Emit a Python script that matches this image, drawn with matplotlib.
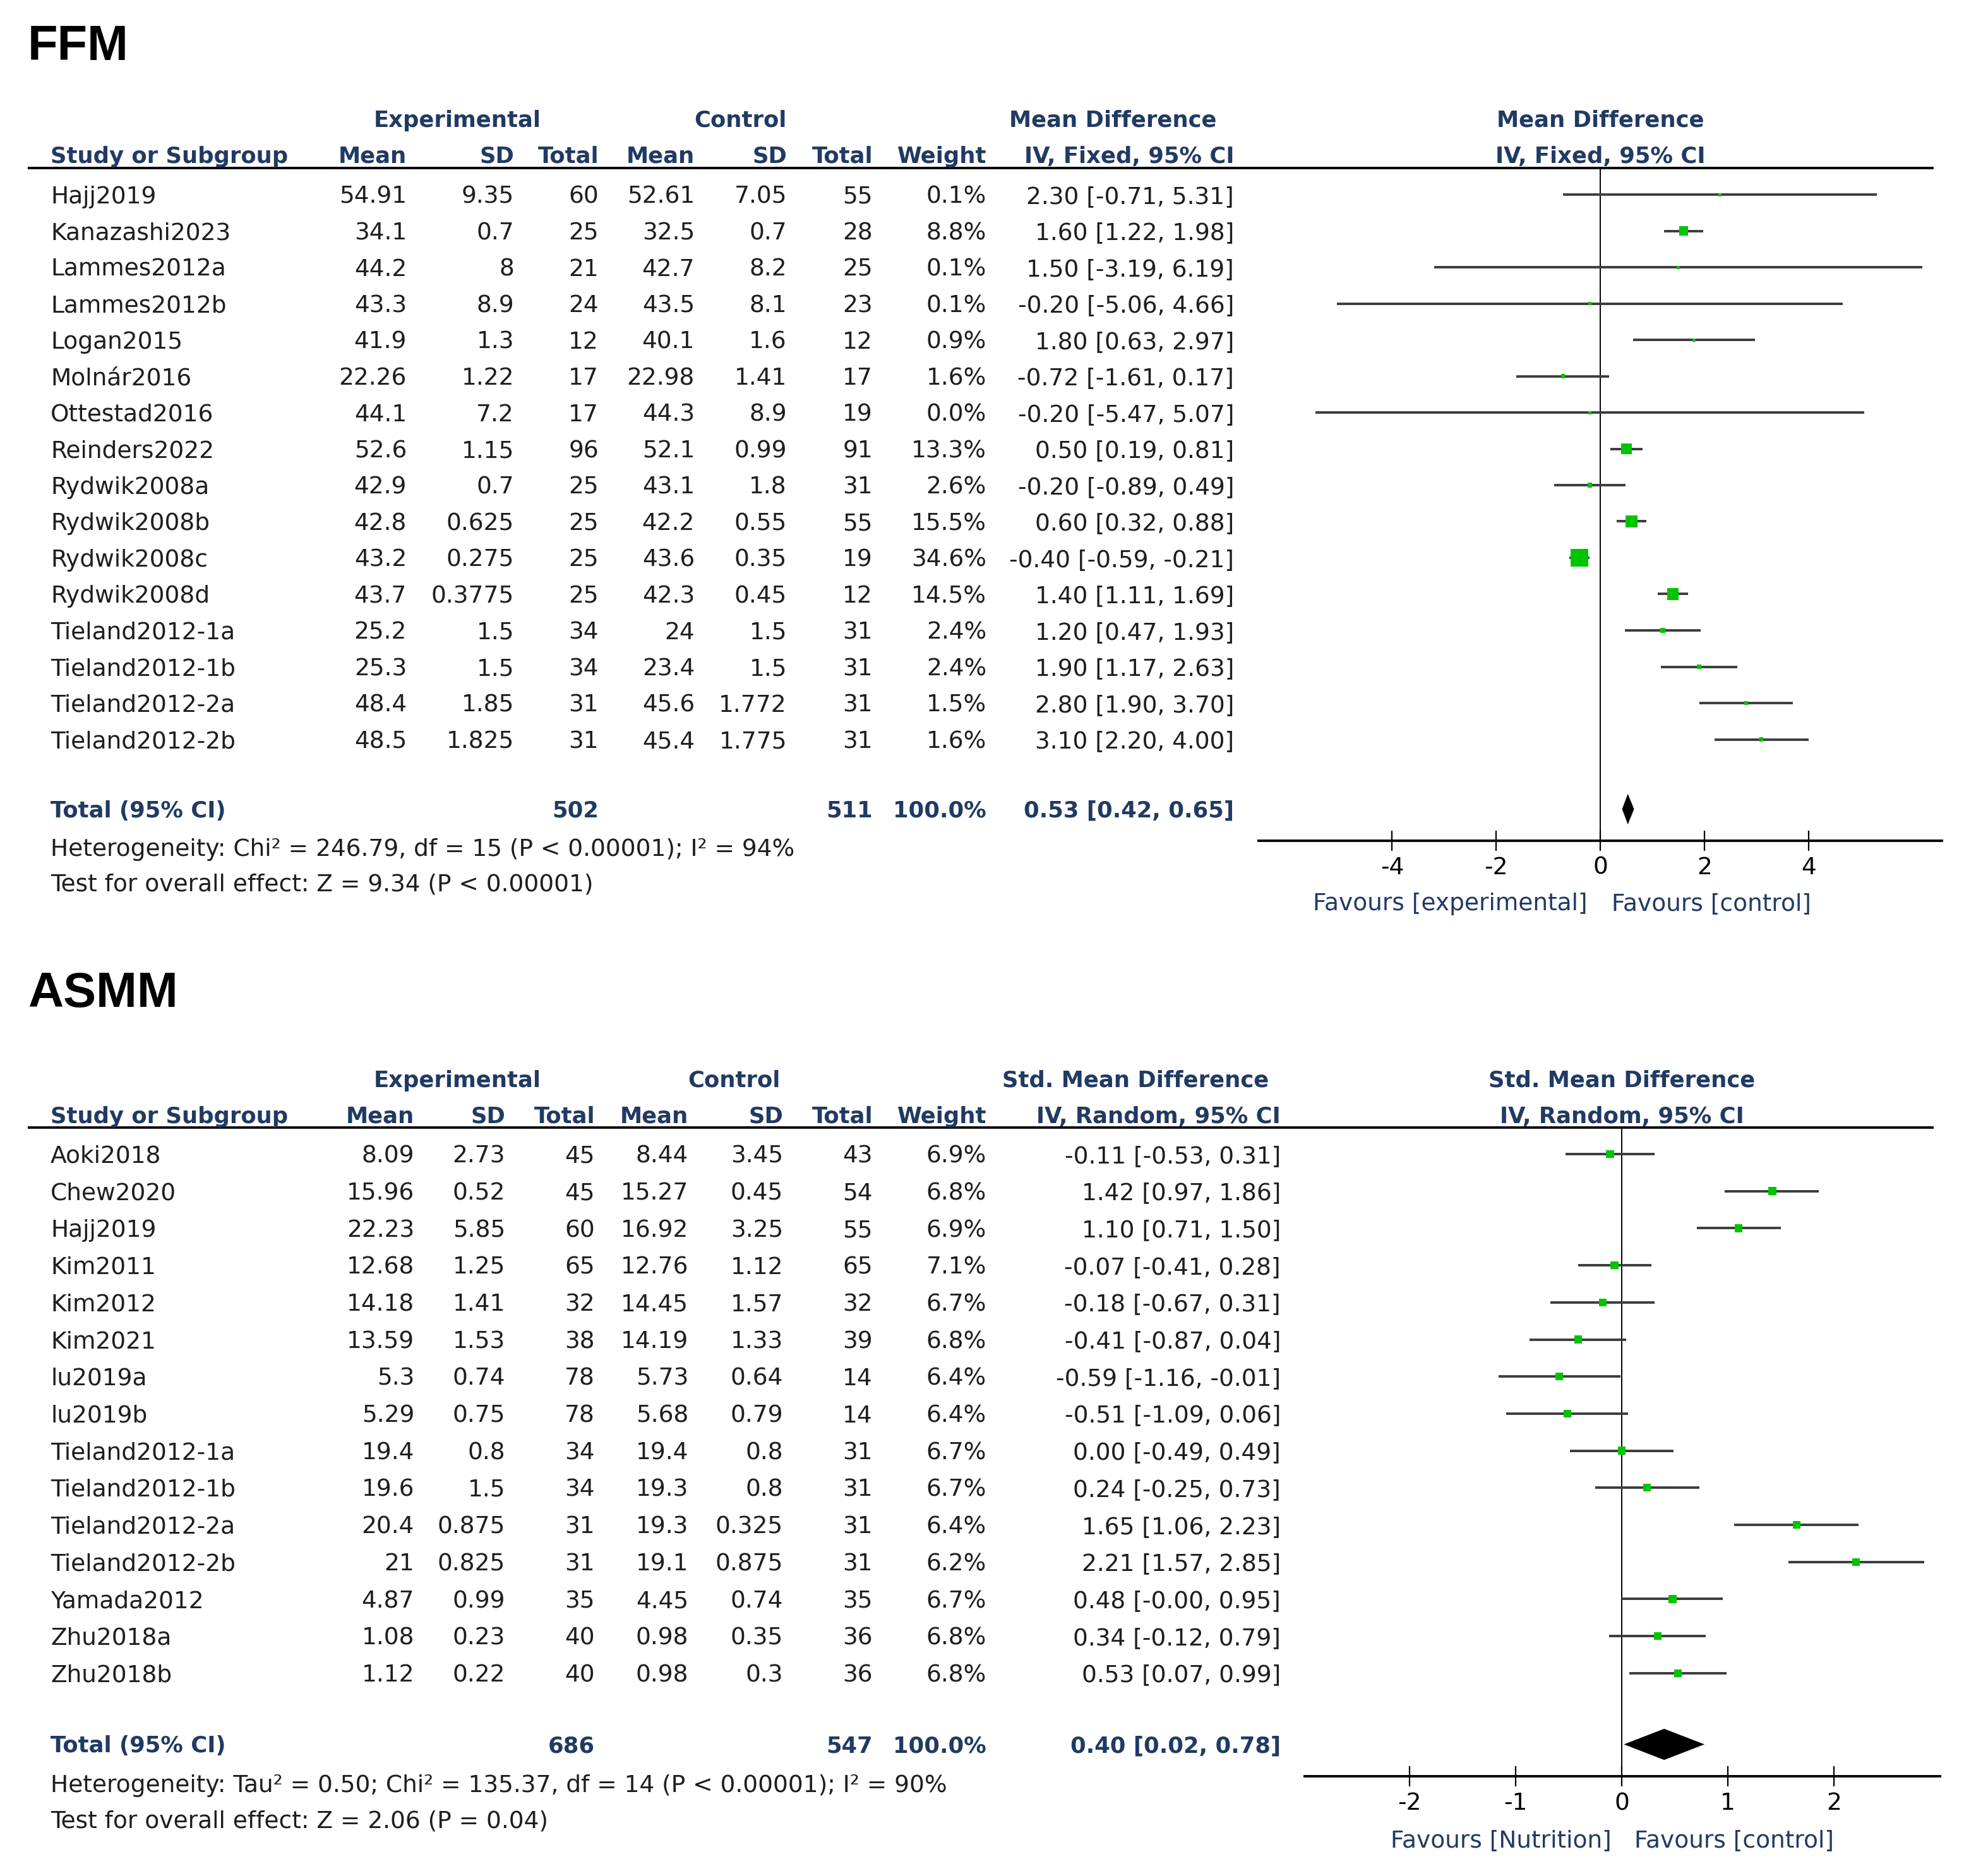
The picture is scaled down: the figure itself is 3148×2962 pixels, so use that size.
import matplotlib
matplotlib.use("Agg")
import matplotlib.pyplot as plt
import numpy as np

plt.rcParams["font.family"] = ["DejaVu Sans"]
plt.rcParams["axes.unicode_minus"] = False

W, H = 3148, 2962
DPI = 100
FS = 27          # table text
FS_B = 25.5      # bold header text
FS_T = 56        # panel titles
HEAD_COL = "#203a63"
TEXT_COL = "#1e1e1e"
GREEN = "#00c400"
CI_COL = "#3c3c3c"

# ---------------- FFM ----------------
ffm_study = ["Hajj2019", "Kanazashi2023", "Lammes2012a", "Lammes2012b", "Logan2015",
             "Molnár2016", "Ottestad2016", "Reinders2022", "Rydwik2008a", "Rydwik2008b",
             "Rydwik2008c", "Rydwik2008d", "Tieland2012-1a", "Tieland2012-1b",
             "Tieland2012-2a", "Tieland2012-2b"]
ffm_exp_mean = [54.91, 34.1, 44.2, 43.3, 41.9, 22.26, 44.1, 52.6, 42.9, 42.8, 43.2, 43.7,
                25.2, 25.3, 48.4, 48.5]
ffm_exp_sd = [9.35, 0.7, 8, 8.9, 1.3, 1.22, 7.2, 1.15, 0.7, 0.625, 0.275, 0.3775,
              1.5, 1.5, 1.85, 1.825]
ffm_exp_n = [60, 25, 21, 24, 12, 17, 17, 96, 25, 25, 25, 25, 34, 34, 31, 31]
ffm_ctrl_mean = [52.61, 32.5, 42.7, 43.5, 40.1, 22.98, 44.3, 52.1, 43.1, 42.2, 43.6, 42.3,
                 24, 23.4, 45.6, 45.4]
ffm_ctrl_sd = [7.05, 0.7, 8.2, 8.1, 1.6, 1.41, 8.9, 0.99, 1.8, 0.55, 0.35, 0.45,
               1.5, 1.5, 1.772, 1.775]
ffm_ctrl_n = [55, 28, 25, 23, 12, 17, 19, 91, 31, 55, 19, 12, 31, 31, 31, 31]
ffm_weight = [0.1, 8.8, 0.1, 0.1, 0.9, 1.6, 0.0, 13.3, 2.6, 15.5, 34.6, 14.5, 2.4, 2.4, 1.5, 1.6]
ffm_est = [2.30, 1.60, 1.50, -0.20, 1.80, -0.72, -0.20, 0.50, -0.20, 0.60, -0.40, 1.40,
           1.20, 1.90, 2.80, 3.10]
ffm_lo = [-0.71, 1.22, -3.19, -5.06, 0.63, -1.61, -5.47, 0.19, -0.89, 0.32, -0.59, 1.11,
          0.47, 1.17, 1.90, 2.20]
ffm_hi = [5.31, 1.98, 6.19, 4.66, 2.97, 0.17, 5.07, 0.81, 0.49, 0.88, -0.21, 1.69,
          1.93, 2.63, 3.70, 4.00]
ffm_total = [0.53, 0.42, 0.65]
ffm_n_total = [502, 511]
ffm_ticks = [-4, -2, 0, 2, 4]
ffm_het = "Heterogeneity: Chi² = 246.79, df = 15 (P < 0.00001); I² = 94%"
ffm_test = "Test for overall effect: Z = 9.34 (P < 0.00001)"

# ---------------- ASMM ----------------
asmm_study = ["Aoki2018", "Chew2020", "Hajj2019", "Kim2011", "Kim2012", "Kim2021",
              "lu2019a", "lu2019b", "Tieland2012-1a", "Tieland2012-1b", "Tieland2012-2a",
              "Tieland2012-2b", "Yamada2012", "Zhu2018a", "Zhu2018b"]
asmm_exp_mean = [8.09, 15.96, 22.23, 12.68, 14.18, 13.59, 5.3, 5.29, 19.4, 19.6, 20.4, 21,
                 4.87, 1.08, 1.12]
asmm_exp_sd = [2.73, 0.52, 5.85, 1.25, 1.41, 1.53, 0.74, 0.75, 0.8, 1.5, 0.875, 0.825,
               0.99, 0.23, 0.22]
asmm_exp_n = [45, 45, 60, 65, 32, 38, 78, 78, 34, 34, 31, 31, 35, 40, 40]
asmm_ctrl_mean = [8.44, 15.27, 16.92, 12.76, 14.45, 14.19, 5.73, 5.68, 19.4, 19.3, 19.3,
                  19.1, 4.45, 0.98, 0.98]
asmm_ctrl_sd = [3.45, 0.45, 3.25, 1.12, 1.57, 1.33, 0.64, 0.79, 0.8, 0.8, 0.325, 0.875,
                0.74, 0.35, 0.3]
asmm_ctrl_n = [43, 54, 55, 65, 32, 39, 14, 14, 31, 31, 31, 31, 35, 36, 36]
asmm_weight = [6.9, 6.8, 6.9, 7.1, 6.7, 6.8, 6.4, 6.4, 6.7, 6.7, 6.4, 6.2, 6.7, 6.8, 6.8]
asmm_est = [-0.11, 1.42, 1.10, -0.07, -0.18, -0.41, -0.59, -0.51, 0.00, 0.24, 1.65, 2.21,
            0.48, 0.34, 0.53]
asmm_lo = [-0.53, 0.97, 0.71, -0.41, -0.67, -0.87, -1.16, -1.09, -0.49, -0.25, 1.06, 1.57,
           -0.0, -0.12, 0.07]
asmm_hi = [0.31, 1.86, 1.50, 0.28, 0.31, 0.04, -0.01, 0.06, 0.49, 0.73, 2.23, 2.85,
           0.95, 0.79, 0.99]
asmm_total = [0.40, 0.02, 0.78]
asmm_n_total = [686, 547]
asmm_ticks = [-2, -1, 0, 1, 2]
asmm_het = "Heterogeneity: Tau² = 0.50; Chi² = 135.37, df = 14 (P < 0.00001); I² = 90%"
asmm_test = "Test for overall effect: Z = 2.06 (P = 0.04)"

# layout of the two panels, in pixels (y = centre of capital letters)
ffm_cfg = dict(title="FFM", title_y=67, grp_y=188, sub_y=245, line_y=266, y0=308,
               step=57.5, axis_y=1331, fav_y=1427, zero=2534, unit=82.4,
               xlim=(-6.57, 6.57),
               cols=[644, 814, 948, 1100, 1246, 1382, 1562, 1954],
               grp_x=[724, 1172, 1762],
               md_head="Mean Difference", iv_head="IV, Fixed, 95% CI",
               fav_left="Favours [experimental]", fav_gap=(20, 18))
asmm_cfg = dict(title="ASMM", title_y=1566, grp_y=1708, sub_y=1765, line_y=1785, y0=1827,
                step=58.7, axis_y=2812, fav_y=2910, zero=2568, unit=168, xlim=(-2.99, 3.0),
                cols=[656, 800, 942, 1090, 1240, 1382, 1562, 2028],
                grp_x=[724, 1162, 1798],
                md_head="Std. Mean Difference", iv_head="IV, Random, 95% CI",
                fav_left="Favours [Nutrition]", fav_gap=(16, 20))


def fmt_ci(e, l, h):
    return f"{e:.2f} [{l:.2f}, {h:.2f}]"


def put(ax, x, yc, s, fs=FS, cap=0.729, **kw):
    """place text so that its capital letters are centred on yc (pixels)"""
    ax.text(x, yc + cap * fs * DPI / 72 / 2, s, fontsize=fs, va="baseline", **kw)


def draw_panel(fig, bg, cfg, study, em, esd, en, cm, csd, cn, wt, est, lo, hi,
               total, n_total, ticks, het, test):
    y0, step = cfg["y0"], cfg["step"]
    cols = cfg["cols"]
    n = len(study)

    put(bg, 44, cfg["title_y"], cfg["title"], fs=FS_T, cap=0.716, fontweight="bold",
        ha="left", color="black", family="Liberation Sans")

    # headers
    hk = dict(fs=FS_B, fontweight="bold", color=HEAD_COL)
    put(bg, cfg["grp_x"][0], cfg["grp_y"], "Experimental", ha="center", **hk)
    put(bg, cfg["grp_x"][1], cfg["grp_y"], "Control", ha="center", **hk)
    put(bg, cfg["grp_x"][2], cfg["grp_y"], cfg["md_head"], ha="center", **hk)
    put(bg, cfg["zero"], cfg["grp_y"], cfg["md_head"], ha="center", **hk)
    put(bg, 80, cfg["sub_y"], "Study or Subgroup", ha="left", **hk)
    for x, lab in zip(cols, ["Mean", "SD", "Total", "Mean", "SD", "Total", "Weight",
                             cfg["iv_head"]]):
        put(bg, x, cfg["sub_y"], lab, ha="right", **hk)
    put(bg, cfg["zero"], cfg["sub_y"], cfg["iv_head"], ha="center", **hk)
    bg.plot([44, 3062], [cfg["line_y"]] * 2, color="black", lw=2.8, solid_capstyle="butt")

    # study rows
    for i in range(n):
        y = y0 + i * step
        put(bg, 80, y, study[i], ha="left", color=TEXT_COL)
        vals = [f"{em[i]:g}", f"{esd[i]:g}", f"{en[i]}", f"{cm[i]:g}", f"{csd[i]:g}",
                f"{cn[i]}", f"{wt[i]:.1f}%", fmt_ci(est[i], lo[i], hi[i])]
        for x, v in zip(cols, vals):
            put(bg, x, y, v, ha="right", color=TEXT_COL)

    # total row and summary lines
    yt = y0 + (n + 0.92) * step
    put(bg, 80, yt, "Total (95% CI)", ha="left", **hk)
    put(bg, cols[2], yt, f"{n_total[0]}", ha="right", **hk)
    put(bg, cols[5], yt, f"{n_total[1]}", ha="right", **hk)
    put(bg, cols[6], yt, "100.0%", ha="right", **hk)
    put(bg, cols[7], yt, fmt_ci(*total), ha="right", **hk)
    put(bg, 80, y0 + (n + 1.97) * step, het, ha="left", color=TEXT_COL)
    put(bg, 80, y0 + (n + 2.93) * step, test, ha="left", color=TEXT_COL)

    # favours labels
    put(bg, cfg["zero"] - cfg["fav_gap"][0], cfg["fav_y"], cfg["fav_left"], ha="right",
        color=HEAD_COL)
    put(bg, cfg["zero"] + cfg["fav_gap"][1], cfg["fav_y"], "Favours [control]", ha="left",
        color=HEAD_COL)

    # forest plot axes
    x0, x1 = cfg["xlim"]
    left_px = cfg["zero"] + x0 * cfg["unit"]
    width_px = (x1 - x0) * cfg["unit"]
    ax = fig.add_axes([left_px / W, 1 - cfg["axis_y"] / H, width_px / W,
                       (cfg["axis_y"] - cfg["line_y"]) / H])
    ax.patch.set_alpha(0)
    ax.set_xlim(x0, x1)
    ax.set_ylim((cfg["axis_y"] - y0) / step, (cfg["line_y"] - y0) / step)
    rows = np.arange(n)
    ax.hlines(rows, lo, hi, color=CI_COL, lw=2.8, zorder=2)
    side = np.maximum(28 * np.sqrt(np.array(wt) / 34.6), 5)
    ax.scatter(est, rows, marker="s", s=(side * 72 / DPI) ** 2, color=GREEN,
               edgecolors="none", zorder=3)
    ax.axvline(0, color="black", lw=1.4, zorder=1)
    e, l, h = total
    r, d = n + 0.92, 0.42
    ax.fill([l, e, h, e], [r, r - d, r, r + d], color="black", lw=0, zorder=3)
    for s in ["top", "left", "right"]:
        ax.spines[s].set_visible(False)
    ax.spines["bottom"].set_linewidth(2.8)
    ax.set_yticks([])
    ax.set_xticks(ticks)
    ax.set_xticklabels([f"{t:g}" for t in ticks])
    ax.tick_params(axis="x", direction="inout", length=23, width=1.6, labelsize=FS,
                   pad=6.5, colors="black")


fig = plt.figure(figsize=(W / DPI, H / DPI), dpi=DPI)
bg = fig.add_axes([0, 0, 1, 1])
bg.set_xlim(0, W)
bg.set_ylim(H, 0)
bg.axis("off")

draw_panel(fig, bg, ffm_cfg, ffm_study, ffm_exp_mean, ffm_exp_sd, ffm_exp_n,
           ffm_ctrl_mean, ffm_ctrl_sd, ffm_ctrl_n, ffm_weight, ffm_est, ffm_lo, ffm_hi,
           ffm_total, ffm_n_total, ffm_ticks, ffm_het, ffm_test)
draw_panel(fig, bg, asmm_cfg, asmm_study, asmm_exp_mean, asmm_exp_sd, asmm_exp_n,
           asmm_ctrl_mean, asmm_ctrl_sd, asmm_ctrl_n, asmm_weight, asmm_est, asmm_lo,
           asmm_hi, asmm_total, asmm_n_total, asmm_ticks, asmm_het, asmm_test)

fig.savefig("out.png", dpi=DPI, facecolor="white")
